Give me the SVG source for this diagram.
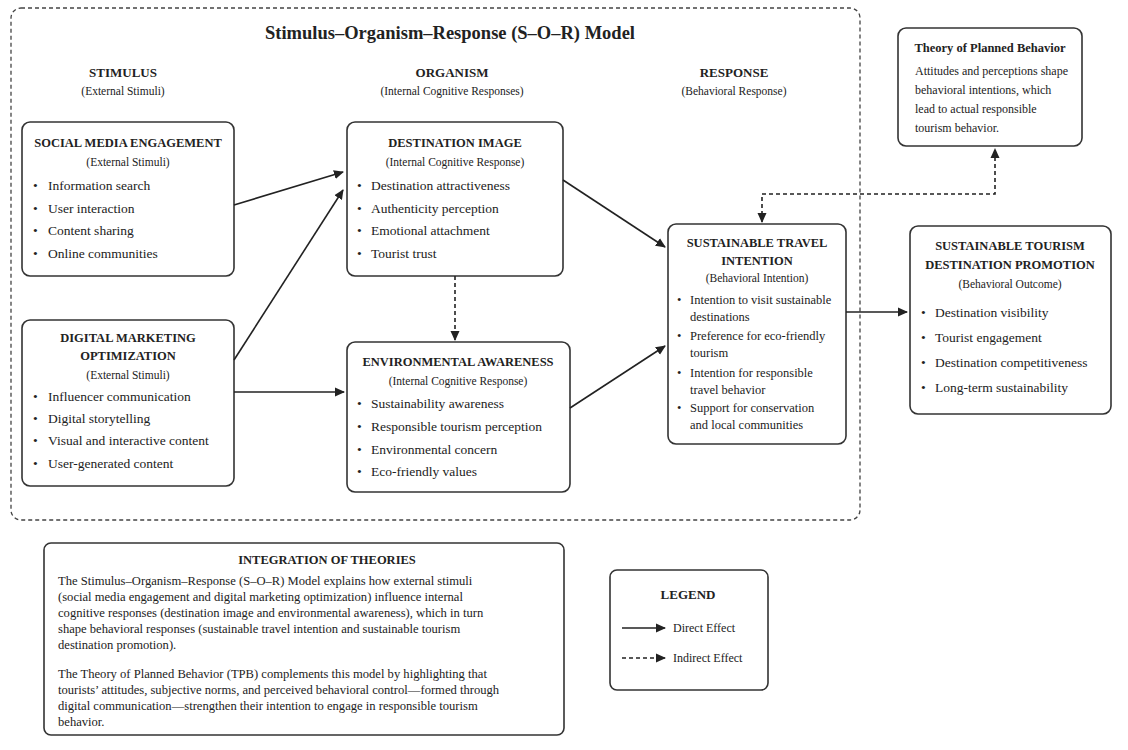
<svg xmlns="http://www.w3.org/2000/svg" width="1128" height="750" viewBox="0 0 1128 750">
<style>
text{font-family:"Liberation Serif","Times New Roman",serif;fill:#222}
.box{fill:#fff;stroke:#333;stroke-width:1.6}
.t{font-weight:bold;font-size:12.5px;text-anchor:middle}
.s{font-size:11.5px;text-anchor:middle}
.b{font-size:13.5px}
.h{font-weight:bold;font-size:13px;text-anchor:middle}
.p{font-size:12px}
.q{font-size:12.6px}
.r{font-size:12.5px}
.c{stroke:#222;stroke-width:1.6;fill:none}
.d{stroke-dasharray:4,3}
</style>
<defs>
<marker id="ah" viewBox="0 0 10 10" refX="9" refY="5" markerWidth="10" markerHeight="10" markerUnits="userSpaceOnUse" orient="auto-start-reverse">
<path d="M0,0.5 L10,5 L0,9.5 z" fill="#222"/>
</marker>
</defs>
<rect width="1128" height="750" fill="#fff"/>
<g id="sor-frame">
<rect x="11" y="8" width="849" height="512" rx="10" fill="none" stroke="#444" stroke-width="1.3" stroke-dasharray="4,3"/>
<text x="450" y="39" style="font-weight:bold;font-size:18.5px;text-anchor:middle">Stimulus–Organism–Response (S–O–R) Model</text>
<text class="h" x="123" y="77">STIMULUS</text>
<text class="s" x="123" y="95">(External Stimuli)</text>
<text class="h" x="452" y="77">ORGANISM</text>
<text class="s" x="452" y="95">(Internal Cognitive Responses)</text>
<text class="h" x="734" y="77">RESPONSE</text>
<text class="s" x="734" y="95">(Behavioral Response)</text>
</g>
<g id="sme">
<rect class="box" x="22" y="122" width="212" height="154" rx="8"/>
<text class="t" x="128" y="147">SOCIAL MEDIA ENGAGEMENT</text>
<text class="s" x="128" y="166">(External Stimuli)</text>
<text class="b" x="33" y="190">•</text><text class="b" x="48" y="190">Information search</text>
<text class="b" x="33" y="213">•</text><text class="b" x="48" y="213">User interaction</text>
<text class="b" x="33" y="235">•</text><text class="b" x="48" y="235">Content sharing</text>
<text class="b" x="33" y="258">•</text><text class="b" x="48" y="258">Online communities</text>
</g>
<g id="dmo">
<rect class="box" x="22" y="320" width="212" height="166" rx="8"/>
<text class="t" x="128" y="342">DIGITAL MARKETING</text>
<text class="t" x="128" y="360">OPTIMIZATION</text>
<text class="s" x="128" y="379">(External Stimuli)</text>
<text class="b" x="33" y="401">•</text><text class="b" x="48" y="401">Influencer communication</text>
<text class="b" x="33" y="423">•</text><text class="b" x="48" y="423">Digital storytelling</text>
<text class="b" x="33" y="445">•</text><text class="b" x="48" y="445">Visual and interactive content</text>
<text class="b" x="33" y="468">•</text><text class="b" x="48" y="468">User-generated content</text>
</g>
<g id="di">
<rect class="box" x="347" y="122" width="216" height="154" rx="8"/>
<text class="t" x="455" y="147">DESTINATION IMAGE</text>
<text class="s" x="455" y="166">(Internal Cognitive Response)</text>
<text class="b" x="357" y="190">•</text><text class="b" x="371" y="190">Destination attractiveness</text>
<text class="b" x="357" y="213">•</text><text class="b" x="371" y="213">Authenticity perception</text>
<text class="b" x="357" y="235">•</text><text class="b" x="371" y="235">Emotional attachment</text>
<text class="b" x="357" y="258">•</text><text class="b" x="371" y="258">Tourist trust</text>
</g>
<g id="ea">
<rect class="box" x="347" y="342" width="223" height="150" rx="8"/>
<text class="t" x="458" y="366">ENVIRONMENTAL AWARENESS</text>
<text class="s" x="458" y="385">(Internal Cognitive Response)</text>
<text class="b" x="357" y="408">•</text><text class="b" x="371" y="408">Sustainability awareness</text>
<text class="b" x="357" y="431">•</text><text class="b" x="371" y="431">Responsible tourism perception</text>
<text class="b" x="357" y="454">•</text><text class="b" x="371" y="454">Environmental concern</text>
<text class="b" x="357" y="476">•</text><text class="b" x="371" y="476">Eco-friendly values</text>
</g>
<g id="sti">
<rect class="box" x="668" y="224" width="178" height="220" rx="8"/>
<text class="t" x="757" y="247">SUSTAINABLE TRAVEL</text>
<text class="t" x="757" y="265">INTENTION</text>
<text class="s" x="757" y="282">(Behavioral Intention)</text>
<text class="r" x="677" y="304">•</text><text class="r" x="690" y="304">Intention to visit sustainable</text>
<text class="r" x="690" y="321">destinations</text>
<text class="r" x="677" y="340">•</text><text class="r" x="690" y="340">Preference for eco-friendly</text>
<text class="r" x="690" y="357">tourism</text>
<text class="r" x="677" y="377">•</text><text class="r" x="690" y="377">Intention for responsible</text>
<text class="r" x="690" y="394">travel behavior</text>
<text class="r" x="677" y="412">•</text><text class="r" x="690" y="412">Support for conservation</text>
<text class="r" x="690" y="429">and local communities</text>
</g>
<g id="stdp">
<rect class="box" x="910" y="226" width="201" height="188" rx="8"/>
<text class="t" x="1010" y="250">SUSTAINABLE TOURISM</text>
<text class="t" x="1010" y="269">DESTINATION PROMOTION</text>
<text class="s" x="1010" y="288">(Behavioral Outcome)</text>
<text class="b" x="921" y="317">•</text><text class="b" x="935" y="317">Destination visibility</text>
<text class="b" x="921" y="342">•</text><text class="b" x="935" y="342">Tourist engagement</text>
<text class="b" x="921" y="367">•</text><text class="b" x="935" y="367">Destination competitiveness</text>
<text class="b" x="921" y="392">•</text><text class="b" x="935" y="392">Long-term sustainability</text>
</g>
<g id="tpb">
<rect class="box" x="898" y="28" width="184" height="118" rx="8"/>
<text x="990" y="52" style="font-weight:bold;font-size:12.5px;text-anchor:middle">Theory of Planned Behavior</text>
<text class="p" x="915" y="75">Attitudes and perceptions shape</text>
<text class="p" x="915" y="94">behavioral intentions, which</text>
<text class="p" x="915" y="113">lead to actual responsible</text>
<text class="p" x="915" y="132">tourism behavior.</text>
</g>
<g id="integration">
<rect class="box" x="44" y="543" width="520" height="192" rx="7"/>
<text class="h" x="327" y="564" style="font-size:12.5px">INTEGRATION OF THEORIES</text>
<text class="q" x="58" y="585">The Stimulus–Organism–Response (S–O–R) Model explains how external stimuli</text>
<text class="q" x="58" y="601">(social media engagement and digital marketing optimization) influence internal</text>
<text class="q" x="58" y="617">cognitive responses (destination image and environmental awareness), which in turn</text>
<text class="q" x="58" y="633">shape behavioral responses (sustainable travel intention and sustainable tourism</text>
<text class="q" x="58" y="649">destination promotion).</text>
<text class="q" x="58" y="678">The Theory of Planned Behavior (TPB) complements this model by highlighting that</text>
<text class="q" x="58" y="694">tourists’ attitudes, subjective norms, and perceived behavioral control—formed through</text>
<text class="q" x="58" y="710">digital communication—strengthen their intention to engage in responsible tourism</text>
<text class="q" x="58" y="726">behavior.</text>
</g>
<g id="legend">
<rect class="box" x="610" y="570" width="158" height="120" rx="7"/>
<text class="h" x="688" y="599">LEGEND</text>
<line class="c" x1="622" y1="628" x2="665" y2="628" marker-end="url(#ah)"/>
<text class="p" x="673" y="632">Direct Effect</text>
<line class="c d" x1="622" y1="658" x2="665" y2="658" marker-end="url(#ah)"/>
<text class="p" x="673" y="662">Indirect Effect</text>
</g>
<g id="connectors">
<line class="c" x1="234" y1="205" x2="343" y2="172" marker-end="url(#ah)"/>
<line class="c" x1="234" y1="360" x2="343" y2="190" marker-end="url(#ah)"/>
<line class="c" x1="234" y1="392" x2="344" y2="392" marker-end="url(#ah)"/>
<line class="c" x1="563" y1="180" x2="665" y2="247" marker-end="url(#ah)"/>
<line class="c" x1="570" y1="408" x2="665" y2="346" marker-end="url(#ah)"/>
<line class="c d" x1="455" y1="276" x2="455" y2="340" marker-end="url(#ah)"/>
<line class="c" x1="846" y1="312" x2="907" y2="312" marker-end="url(#ah)"/>
<path class="c d" d="M762,222 L762,194 L995,194 L995,149" marker-start="url(#ah)" marker-end="url(#ah)"/>
</g>
</svg>
